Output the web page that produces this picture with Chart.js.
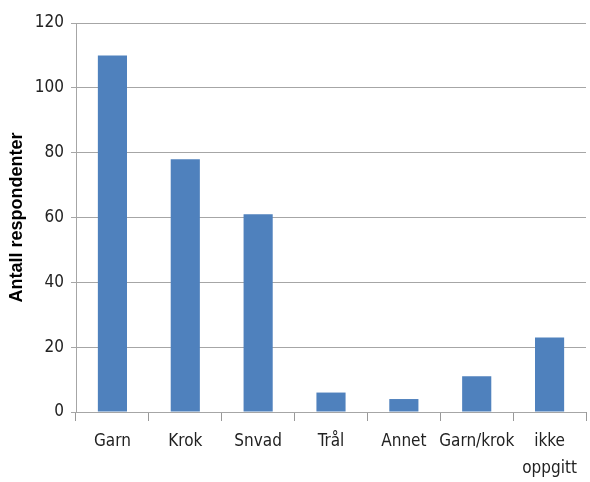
<!DOCTYPE html>
<html>
<head>
<meta charset="utf-8">
<script src="https://cdn.jsdelivr.net/npm/chart.js@4/dist/chart.umd.min.js"></script>
<style>
  html, body { margin: 0; padding: 0; background: #fff; }
  #wrap { width: 590px; height: 482px; }
</style>
</head>
<body>
<div id="wrap"><canvas id="myChart" width="590" height="482"></canvas></div>
<script>
// categories and values
var categories = ['Garn', 'Krok', 'Snvad', 'Trål', 'Annet', 'Garn/krok', ['ikke', 'oppgitt']];
var respondents = [110, 78, 61, 6, 4, 11, 23];
var yTicks = [0, 20, 40, 60, 80, 100, 120];

var tickFont = { family: "'DejaVu Sans Condensed', 'Liberation Sans', sans-serif", size: 17, lineHeight: 1.6 };

var chart = new Chart('myChart', {
    type: 'bar',
    data: {
        labels: categories,
        datasets: [{
            label: 'Antall respondenter',
            data: respondents,
            backgroundColor: '#4f81bd',
            borderWidth: 0,
            barPercentage: 0.4,
            categoryPercentage: 1
        }]
    },
    options: {
        responsive: false,
        animation: false,
        layout: { padding: { top: 23, right: 4, left: 6, bottom: 0 } },
        plugins: {
            legend: { display: false },
            tooltip: { enabled: false }
        },
        scales: {
            x: {
                afterFit: function(axis) { axis.height = 70; },
                grid: {
                    offset: true,
                    drawOnChartArea: false,
                    color: '#999',
                    tickLength: 9
                },
                border: { display: false },
                ticks: {
                    color: '#222',
                    font: tickFont,
                    maxRotation: 0,
                    autoSkip: false,
                    padding: 7
                }
            },
            y: {
                min: 0,
                max: 120,
                afterBuildTicks: function(axis) {
                    axis.ticks = yTicks.map(function(v) { return { value: v }; });
                },
                afterFit: function(axis) { axis.width = 70; },
                grid: {
                    color: '#a6a6a6',
                    tickLength: 5
                },
                border: { color: '#a6a6a6' },
                ticks: {
                    color: '#222',
                    font: { family: tickFont.family, size: 17 },
                    padding: 7
                },
                title: {
                    display: true,
                    text: 'Antall respondenter',
                    color: '#000',
                    font: { family: "'Liberation Sans', Arial, sans-serif", size: 18, weight: 'bold' },
                    padding: { top: 0, bottom: 3 }
                }
            }
        }
    }
});
</script>
</body>
</html>
